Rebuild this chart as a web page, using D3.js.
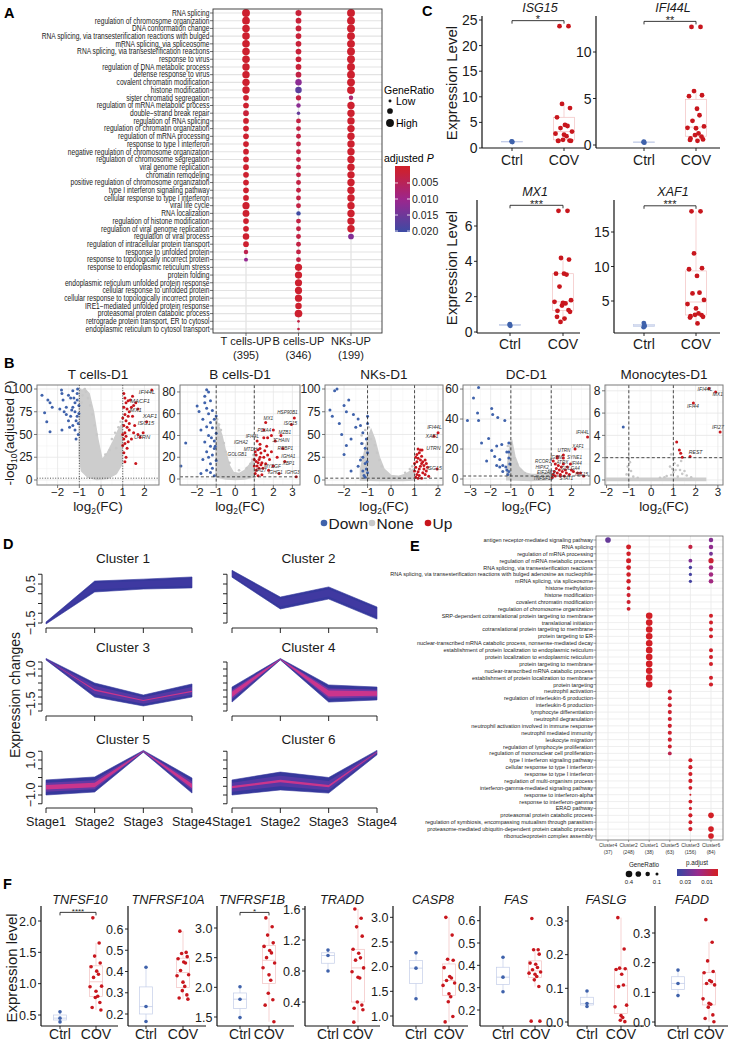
<!DOCTYPE html>
<html><head><meta charset="utf-8">
<script src="https://cdn.jsdelivr.net/npm/d3@7"></script>
<style>body{margin:0;background:#fff}svg{display:block;font-family:'Liberation Sans',Arial,Helvetica,sans-serif}</style>
</head><body><svg id="fig" width="731" height="1041"></svg>
<script>
// ===================== DATA =====================
// Panel A
const aTerms = ["RNA splicing","regulation of chromosome organization","DNA conformation change","RNA splicing, via transesterification reactions with bulged","mRNA splicing, via spliceosome","RNA splicing, via transesterification reactions","response to virus","regulation of DNA metabolic process","defense response to virus","covalent chromatin modification","histone modification","sister chromatid segregation","regulation of mRNA metabolic process","double\u2212strand break repair","regulation of RNA splicing","regulation of chromatin organization","regulation of mRNA processing","response to type I interferon","negative regulation of chromosome organization","regulation of chromosome segregation","viral genome replication","chromatin remodeling","positive regulation of chromosome organization","type I interferon signaling pathway","cellular response to type I interferon","viral life cycle","RNA localization","regulation of histone modification","regulation of viral genome replication","regulation of viral process","regulation of intracellular protein transport","response to unfolded protein","response to topologically incorrect protein","response to endoplasmic reticulum stress","protein folding","endoplasmic reticulum unfolded protein response","cellular response to unfolded protein","cellular response to topologically incorrect protein","IRE1\u2212mediated unfolded protein response","proteasomal protein catabolic process","retrograde protein transport, ER to cytosol","endoplasmic reticulum to cytosol transport"];
const aGroups = ["T cells-UP","B cells-UP","NKs-UP"];
const aGroupN = ["(395)","(346)","(199)"];
const aRatioT = [.095,.092,.09,.09,.09,.09,.09,.088,.088,.088,.088,.065,.065,.065,.065,.065,.065,.065,.065,.065,.065,.065,.065,.065,.065,.085,.08,.065,.065,.075,.065,.05,.045,null,null,null,null,null,null,null,null,null];
const aPadjT  = [.001,.001,.001,.001,.001,.001,.001,.001,.001,.001,.001,.001,.001,.002,.001,.001,.001,.001,.001,.001,.001,.001,.001,.001,.001,.001,.001,.001,.001,.001,.001,.004,.011,null,null,null,null,null,null,null,null,null];
const aRatioB = [.07,.065,.065,.065,.065,.065,.065,.065,.065,.075,.075,.06,.05,.04,.055,.055,.055,.055,.055,.055,.055,.055,.055,.055,.055,.055,.05,.055,.055,.055,.055,.055,.055,.085,.085,.085,.085,.085,.075,.092,.033,.033];
const aPadjB  = [.002,.002,.002,.002,.002,.002,.002,.002,.003,.012,.017,.003,.012,.016,.003,.003,.003,.003,.003,.003,.003,.003,.003,.003,.003,.003,.020,.003,.003,.003,.003,.003,.003,.001,.001,.001,.001,.001,.001,.001,.003,.003];
const aRatioNK= [.095,.095,.095,.095,.095,.095,.095,.095,.095,.095,.095,.05,.088,.088,.088,.088,.088,.088,.088,.088,.088,.088,.088,.088,.088,.088,.088,.088,.088,.065,null,null,null,null,null,null,null,null,null,null,null,null];
const aPadjNK = [.001,.001,.001,.001,.001,.001,.001,.001,.001,.001,.001,.007,.001,.001,.001,.001,.001,.001,.001,.001,.001,.001,.001,.001,.001,.001,.001,.001,.001,.013,null,null,null,null,null,null,null,null,null,null,null,null];
const aPadjTicks = [0.005,0.010,0.015,0.020];

// Panel B (volcano) [log2FC, -log10 adj P]
const fcThresh = [-1, 1];
const pThresh = 2;
const tBlue = [[-2.72,93],[-2.35,85],[-2.6,74],[-2.5,64],[-2.35,53],[-2.45,88],[-2.25,80],[-1.82,99],[-1.8,95],[-1.75,88],[-1.7,75],[-1.8,55],[-1.6,72],[-1.5,93],[-1.4,90],[-1.5,65],[-1.4,70],[-1.3,98],[-1.3,80],[-1.3,60],[-1.2,85],[-1.2,75],[-1.2,55],[-1.1,95],[-1.1,88],[-1.1,70],[-1.05,62],[-1.05,50],[-1.15,65],[-1.25,90],[-1.35,77],[-1.6,80],[-1.9,78],[-1.45,58],[-1.02,82],[-1.02,73],[-1.15,45],[-1.08,100]];
const tRed = [[1.05,95],[1.1,90],[1.15,85],[1.05,80],[1.2,78],[1.1,72],[1.25,70],[1.0,68],[1.15,65],[1.05,60],[1.2,58],[1.3,55],[1.1,52],[1.0,50],[1.15,48],[1.05,45],[1.25,42],[1.1,40],[1.0,38],[1.2,35],[1.05,30],[1.15,25],[1.3,62],[1.35,88],[1.4,80],[1.5,82],[1.45,92],[1.6,85],[1.3,75],[1.45,70],[1.55,60],[1.7,50],[1.4,45],[1.1,20],[1.6,18],[2.34,99],[1.25,87],[1.7,78],[2.1,64],[1.94,52],[1.5,52],[1.8,47]];
const tGray = [[-0.95,99],[-0.85,93],[-0.7,97],[-0.6,90],[-0.9,85],[-0.5,82],[-0.4,72],[-0.3,60],[-0.98,70],[0.5,45],[0.65,52],[0.8,58],[0.9,64],[0.95,48],[0.7,35],[0.4,33],[0.2,28],[-0.2,50],[0.92,30],[-0.75,100]];
const tGrayPoly = [[-1.0,97],[-0.75,100],[-0.55,95],[-0.35,75],[-0.15,45],[0.05,22],[0.3,30],[0.55,42],[0.8,55],[0.98,62],[0.98,18],[0.7,7],[0.3,1.5],[-0.2,0.5],[-0.6,3],[-0.9,10],[-1.0,25]];
const tLabels = [["IFI44L",2.12,94],["MACF1",1.8,85],["MX1",1.6,75],["XAF1",2.25,68],["ISG15",2.07,60],["UTRN",1.89,45]];

const bBlue = [[-1.5,82],[-1.4,80],[-1.6,76],[-1.3,72],[-2.0,67],[-1.5,65],[-1.2,63],[-1.4,60],[-1.0,58],[-1.1,55],[-1.7,55],[-1.3,52],[-1.5,48],[-1.2,47],[-1.8,45],[-1.0,42],[-1.4,40],[-2.6,33],[-1.1,35],[-1.6,34],[-1.3,30],[-1.1,28],[-1.5,25],[-1.2,22],[-1.4,20],[-1.7,18],[-1.0,17],[-1.3,14],[-2.85,12],[-1.2,10],[-1.5,8],[-1.8,5],[-1.1,3],[-1.3,6],[-1.9,62],[-1.6,70],[-1.25,38],[-1.05,30]];
const bRed = [[1.05,5],[1.1,8],[1.15,12],[1.2,15],[1.25,18],[1.3,20],[1.1,22],[1.05,25],[1.2,27],[1.35,24],[1.4,15],[1.45,10],[1.5,20],[1.55,26],[1.6,14],[1.65,30],[1.7,22],[1.3,32],[1.15,35],[1.8,18],[1.9,25],[2.0,12],[1.75,8],[1.4,4],[1.2,3],[1.0,12],[1.0,18],[2.2,20],[2.5,28],[1.5,38],[1.9,40],[1.5,45],[2.1,35],[3.1,56],[2.95,50],[1.6,52],[2.4,40],[2.0,45],[2.6,16],[3.2,2],[2.3,5],[1.7,38],[1.3,28],[1.1,16],[1.25,10],[1.35,13]];
const bGray = [[-0.95,55],[-0.85,50],[-0.75,45],[-0.9,38],[-0.6,33],[-0.5,25],[-0.97,30],[0.9,18],[0.8,14],[0.6,10],[0.95,22],[-0.3,15],[0.2,8],[0.97,8]];
const bGrayPoly = [[-1.0,55],[-0.9,50],[-0.7,40],[-0.5,25],[-0.3,12],[-0.1,6],[0.2,5],[0.5,8],[0.8,14],[1.0,20],[1.0,2],[0.5,0],[0,-0.5],[-0.5,0],[-1.0,2]];
const bLabels = [["HSP90B1",2.74,60],["MX1",1.74,54.5],["ISG15",2.9,50],["MZB1",2.6,41.5],["PDIA4",1.53,43.5],["IFI44L",0.9,38],["JCHAIN",2.4,34],["IGHA2",0.3,32],["RRBP1",2.63,26.5],["MTDH",0.8,25.5],["GOLGB1",0.1,21],["IGHA1",2.79,19],["XBP1",2.8,13],["MYDGF",1.95,10.5],["IFI27",1.35,6.5],["IGHG1",2.1,4.5],["IGHG3",3.0,4.5]];

const nBlue = [[-2.6,77],[-2.4,98],[-2.3,100],[-2.5,70],[-2.2,62],[-2.0,82],[-1.9,75],[-2.1,50],[-1.8,88],[-1.7,45],[-1.6,72],[-1.5,58],[-1.4,67],[-1.3,60],[-1.2,52],[-1.0,62],[-1.1,35],[-1.2,25],[-1.0,30],[-1.1,18],[-1.3,22],[-1.05,12],[-1.0,8],[-1.15,5],[-1.4,15],[-1.7,10],[-1.9,38],[-2.0,28],[-1.25,40],[-1.05,45],[-1.0,70],[-1.02,20],[-1.1,3],[-1.2,10]];
const nRed = [[1.05,3],[1.1,6],[1.15,9],[1.2,12],[1.25,15],[1.3,18],[1.1,20],[1.05,14],[1.2,5],[1.35,8],[1.4,12],[1.45,6],[1.5,10],[1.15,24],[1.25,22],[1.35,20],[1.05,25],[1.1,28],[1.2,30],[1.3,26],[1.4,16],[1.55,14],[1.6,4],[1.0,10],[1.0,18],[1.15,2],[1.3,2],[1.45,22],[1.5,18],[1.25,33],[1.15,34],[1.32,33],[1.83,48],[2.0,52],[1.96,12]];
const nGray = [[-1.25,49],[-1.2,40],[-1.1,55],[-0.95,58],[-0.85,45],[-0.7,38],[-0.6,30],[-0.5,22],[-1.0,30],[-0.4,15],[0.6,8],[0.8,12],[0.9,15],[0.95,10],[-1.28,25]];
const nGrayPoly = [[-1.3,12],[-1.0,45],[-0.85,55],[-0.7,45],[-0.5,25],[-0.3,12],[0,5],[0.3,4],[0.6,6],[0.95,12],[0.95,0],[0.5,-0.5],[0,-0.5],[-0.6,-0.5],[-1.3,0]];
const nLabels = [["IFI44L",1.85,56],["XAF1",1.74,46],["UTRN",1.8,33],["ISG15",1.85,11]];

const dBlue = [[-2.6,61],[-2.85,54],[-3.15,39],[-2.65,44],[-2.6,39],[-1.95,47],[-1.9,43],[-1.65,41],[-1.3,39],[-2.45,24],[-2.1,27],[-1.95,19],[-1.7,22],[-1.45,23],[-1.2,18],[-1.1,24],[-1.8,15],[-1.55,13],[-1.4,9],[-1.25,8],[-1.2,6],[-1.1,5],[-1.15,3],[-1.55,8],[-1.4,5],[-2.2,12],[-1.7,9],[-1.1,18],[-1.1,14],[-1.05,10]];
const dRed = [[1.05,1],[1.1,3],[1.15,5],[1.2,2],[1.25,7],[1.3,4],[1.35,9],[1.4,6],[1.45,3],[1.5,8],[1.55,5],[1.6,10],[1.65,2],[1.7,6],[1.75,4],[1.8,8],[1.9,3],[2.0,6],[1.2,10],[1.1,12],[1.3,14],[1.6,16],[2.18,20],[2.8,28],[1.95,10],[2.1,5],[1.45,2],[1.3,15],[1.6,14],[2.3,4],[2.6,2],[2.45,4]];
const dGray = [[-1.15,22],[-1.0,25],[-0.95,18],[-0.85,14],[-0.7,10],[-1.1,10],[-0.5,6],[0.6,4],[0.9,6],[0.95,3],[-0.3,4]];
const dGrayPoly = [[-1.2,5],[-1.05,22],[-0.95,25],[-0.8,15],[-0.6,8],[-0.3,4],[0,3],[0.4,3],[0.8,4],[1.0,5],[1.0,-0.5],[0,-1],[-1.2,-0.5]];
const dLabels = [["IFI44L",2.55,30],["XAF1",2.33,21],["UTRN",1.63,18.3],["IGHM",1.25,13.6],["SYNE1",2.15,13.6],["ATRX",1.55,10],["IFI44",2.25,9.4],["RCOR1",0.6,10.6],["HIPK2",0.55,7],["EIF2AK2",0.75,3.6],["GOLGA4",1.95,6.3],["ISG15",2.5,2.3],["STAT1",1.75,-0.6],["TNFSF10",0.6,-0.4]];

const mBlue = [[-1.25,4.75]];
const mRed = [[2.6,8.2],[2.9,7.9],[1.9,6.9],[3.1,4.3],[1.15,3.4],[1.27,2.7],[1.33,2.4],[1.4,2.05],[1.75,2.1]];
const mGray = [[-1.0,2.0],[-0.95,1.6],[-1.05,1.2],[-0.9,0.8],[-1.1,0.5],[-0.8,0.3],[0.9,2.3],[1.0,1.9],[1.05,1.5],[0.85,1.2],[1.2,1.3],[1.3,0.9],[1.0,0.7],[0.9,0.45],[1.4,0.55],[0.7,0.35],[1.5,0.8],[1.35,1.7],[0.95,1.0],[1.1,0.9],[1.6,0.4],[0.6,0.25],[1.2,0.3],[-0.6,0.2],[0.4,0.2],[1.8,0.25]];
const mGrayPoly = [[-2.0,-0.05],[2.45,-0.05],[2.45,0.15],[-2.0,0.15]];
const mLabels = [["IFI44L",2.42,8.0],["MX1",3.0,7.55],["IFI44",1.88,6.5],["IFI27",3.0,4.6],["REST",2.0,2.35]];

// Panel C
const cCtrl = {ISG15:[1.25,1.15,1.3], IFI44L:[0.3,0.25,0.35], MX1:[0.4,0.35,0.45], XAF1:[1.2,1.5,1.8,1.35]};
const cCov = {
  ISG15:[23.8,23.8,8.6,7.8,6.0,4.5,4.3,3.9,3.2,2.8,2.6,2.3,1.6,1.45,1.4,1.4,1.4],
  IFI44L:[12.7,12.7,5.8,5.35,5.25,3.9,3.2,2.6,2.0,1.85,1.8,1.25,1.07,0.9,0.7,0.6,0.55,0.45],
  MX1:[6.86,6.86,4.19,4.1,3.3,3.3,3.25,2.57,1.8,1.71,1.65,1.62,1.5,1.24,1.2,1.14,0.86,0.76,0.57],
  XAF1:[18,18,11.9,9.76,9.6,8.64,6.2,6.1,5.15,4.56,3.93,3.2,3.0,2.96,2.8,2.7,2.6,1.75]};
const cSig = {ISG15:"*", IFI44L:"**", MX1:"***", XAF1:"***"};
const cTicks = {ISG15:[0,5,10,15,20,25], IFI44L:[0,5,10], MX1:[0,2,4,6], XAF1:[5,10,15]};

// Panel D (Mfuzz clusters)
const dStages = ["Stage1","Stage2","Stage3","Stage4"];
const clHi  = {1:[-1.45,0.65,0.75,0.86], 2:[1.2,-0.17,0.35,-0.68], 3:[1.75,0.0,-0.86,-0.07], 4:[-0.29,1.75,-0.14,-0.29], 5:[-0.14,0.03,1.55,-0.03], 6:[-0.14,0.31,0.0,1.55]};
const clLo  = {1:[-1.55,0.09,0.24,0.3], 2:[0.85,-0.78,-0.27,-1.3], 3:[1.65,-1.0,-1.64,-1.0], 4:[-1.36,1.65,-1.36,-1.21], 5:[-1.0,-0.83,1.45,-0.89], 6:[-1.0,-0.71,-0.89,1.3]};
const clMid = {1:[-1.5,0.4,0.5,0.58], 2:[1.0,-0.45,0.05,-0.98], 3:[1.7,-0.5,-1.25,-0.6], 4:[-0.8,1.7,-0.75,-0.75], 5:[-0.55,-0.45,1.5,-0.5], 6:[-0.55,-0.2,-0.5,1.45]};
const clTickLabels = {1:[0.5,-1.5], 3:[1.0,-1.5], 5:[1.0,-1.0]};

// Panel E
const eTerms = ["antigen receptor-mediated signaling pathway","RNA splicing","regulation of mRNA processing","regulation of mRNA metabolic process","RNA splicing, via transesterification reactions","RNA splicing, via transesterification reactions with bulged adenosine as nucleophile","mRNA splicing, via spliceosome","histone methylation","histone modification","covalent chromatin modification","regulation of chromosome organization","SRP-dependent cotranslational protein targeting to membrane","translational initiation","cotranslational protein targeting to membrane","protein targeting to ER","nuclear-transcribed mRNA catabolic process, nonsense-mediated decay","establishment of protein localization to endoplasmic reticulum","protein localization to endoplasmic reticulum","protein targeting to membrane","nuclear-transcribed mRNA catabolic process","establishment of protein localization to membrane","protein targeting","neutrophil activation","regulation of interleukin-6 production","interleukin-6 production","lymphocyte differentiation","neutrophil degranulation","neutrophil activation involved in immune response","neutrophil mediated immunity","leukocyte migration","regulation of lymphocyte proliferation","regulation of mononuclear cell proliferation","type I interferon signaling pathway","cellular response to type I interferon","response to type I interferon","regulation of multi-organism process","interferon-gamma-mediated signaling pathway","response to interferon-alpha","response to interferon-gamma","ERAD pathway","proteasomal protein catabolic process","regulation of symbiosis, encompassing mutualism through parasitism","proteasome-mediated ubiquitin-dependent protein catabolic process","ribonucleoprotein complex assembly"];
const eClusters = ["Cluster4","Cluster2","Cluster1","Cluster5","Cluster3","Cluster6"];
const eCounts = ["(37)","(248)","(38)","(63)","(156)","(84)"];
// [row (1-based), cluster index, GeneRatio, p.adjust]
const eDots = [[1,0,.30,.028],[1,5,.2,.022],
 [2,1,.24,.002],[2,4,.18,.006],[2,5,.2,.02],
 [3,1,.2,.002],[3,5,.15,.025],
 [4,1,.24,.002],[4,4,.15,.022],[4,5,.26,.004],
 [5,1,.22,.002],[5,4,.12,.034],[5,5,.2,.016],
 [6,1,.2,.002],[6,4,.11,.034],[6,5,.2,.016],
 [7,1,.2,.002],[7,4,.11,.034],[7,5,.21,.016],
 [8,1,.14,.003],[9,1,.17,.003],[10,1,.17,.003],[11,1,.15,.003],
 [12,2,.4,.001],[13,2,.4,.001],[14,2,.4,.001],[15,2,.4,.001],[16,2,.4,.001],[17,2,.4,.001],[18,2,.4,.001],[19,2,.4,.001],[20,2,.4,.001],[21,2,.4,.001],[22,2,.4,.001],
 [12,5,.16,.002],[13,5,.16,.002],[14,5,.16,.002],[15,5,.16,.002],[17,5,.16,.002],[18,5,.16,.002],[19,5,.16,.002],[21,5,.16,.002],[22,5,.17,.002],
 [23,3,.17,.003],[24,3,.16,.003],[25,3,.16,.003],[26,3,.17,.003],[27,3,.17,.003],[28,3,.17,.003],[29,3,.17,.003],[30,3,.17,.003],[31,3,.16,.003],[32,3,.15,.008],
 [33,4,.17,.002],[34,4,.17,.002],[35,4,.17,.002],[36,4,.17,.002],[37,4,.15,.002],[38,4,.05,.002],[39,4,.15,.002],[40,4,.11,.002],[41,4,.17,.002],[42,4,.15,.002],[43,4,.17,.002],
 [41,5,.3,.001],[43,5,.3,.001],[44,5,.3,.001]];
const eRatioLegend = [0.4,0.3,0.2,0.1];
const ePadjTicks = [0.03,0.01];

// Panel F
const fGenes = ["TNFSF10","TNFRSF10A","TNFRSF1B","TRADD","CASP8","FAS","FASLG","FADD"];
const fCtrl = {TNFSF10:[0.55,0.45,0.39], TNFRSF10A:[0.42,0.235,0.165], TNFRSF1B:[2.01,1.8,1.49], TRADD:[1.07,1.0,0.8], CASP8:[2.28,1.97,1.35], FAS:[0.436,0.347,0.282], FASLG:[0.092,0.055,0.046], FADD:[0.175,0.13,0.089]};
const fCov = {
 TNFSF10:[2.05,1.65,1.44,1.33,1.27,1.2,1.15,1.1,0.96,0.95,0.88,0.8,0.78,0.7,0.62,0.58],
 TNFRSF10A:[0.59,0.49,0.485,0.47,0.46,0.445,0.44,0.405,0.385,0.38,0.35,0.33,0.31,0.29,0.275,0.27],
 TNFRSF1B:[3.17,3.02,2.88,2.75,2.69,2.62,2.58,2.5,2.41,2.33,2.21,2.12,1.9,1.79,1.7,1.42],
 TRADD:[1.6,1.48,1.37,1.25,1.08,1.03,0.97,0.94,0.84,0.79,0.72,0.71,0.4,0.36,0.32,0.3,0.14],
 CASP8:[3.0,2.64,2.15,2.13,1.98,1.8,1.77,1.72,1.67,1.62,1.45,1.39,1.29,0.99,0.88],
 FAS:[0.61,0.47,0.47,0.45,0.41,0.405,0.39,0.38,0.37,0.365,0.36,0.35,0.335,0.305,0.15,0.15],
 FASLG:[0.31,0.217,0.16,0.158,0.156,0.142,0.11,0.105,0.05,0.045,0.019,0.013,0.005,0.001],
 FADD:[0.345,0.269,0.206,0.17,0.166,0.14,0.136,0.13,0.125,0.078,0.063,0.06,0.05,0.024,0.012,0.001]};
const fSig = {TNFSF10:"****", TNFRSF1B:"*"};
const fTicks = {TNFSF10:[0.5,1.0,1.5,2.0], TNFRSF10A:[0.2,0.3,0.4,0.5,0.6], TNFRSF1B:[1.5,2.0,2.5,3.0], TRADD:[0.4,0.8,1.2,1.6], CASP8:[1.0,1.5,2.0,2.5,3.0], FAS:[0.2,0.3,0.4,0.5,0.6], FASLG:[0.0,0.1,0.2,0.3], FADD:[0.0,0.1,0.2,0.3]};

// ===================== DRAWING =====================
const svg = d3.select("#fig");
svg.append("rect").attr("width",731).attr("height",1041).attr("fill","#fff");
const defs = svg.append("defs");
const RED="#c8161d", BLUE="#3f62ab", GRAY="#c8c8c8";
const jitterPattern = [-0.45,0.45,-0.2,0.6,-0.7,0.1,0.35,-0.35,0.8,-0.85,0,0.25,-0.1,0.55,-0.55,0.7,-0.6,0.15,-0.25,0.4];

function T(p,x,y,s,o={}){
  const t=p.append("text").attr("x",x).attr("y",y).text(s).attr("font-size",o.size||10)
    .attr("text-anchor",o.anchor||"start").attr("fill",o.fill||"#000");
  if(o.weight) t.attr("font-weight",o.weight);
  if(o.style) t.attr("font-style",o.style);
  if(o.rotate!=null) t.attr("transform",`rotate(${o.rotate},${x},${y})`);
  return t;
}
function L(p,x1,y1,x2,y2,c,w,dash){const l=p.append("line").attr("x1",x1).attr("y1",y1).attr("x2",x2).attr("y2",y2).attr("stroke",c).attr("stroke-width",w);if(dash)l.attr("stroke-dasharray",dash);return l;}

// panel letters
[["A",4,18],["B",4,368],["C",422,16],["D",3,549],["E",410,551],["F",3,889]].forEach(([s,x,y])=>T(svg,x,y,s,{size:14.5,weight:"bold"}));

// ---------- Panel A ----------
(function(){
  const g=svg.append("g");
  const box={x0:213,x1:382,y0:9,y1:333};
  const yA=d3.scalePoint().domain(aTerms).range([13,329]);
  const xA=d3.scalePoint().domain(aGroups).range([246,351]);
  const rA=d3.scaleSqrt().domain([0.03,0.1]).range([1.2,4.1]);
  const colA=d3.scaleLinear().domain([0.0005,0.0105,0.0205]).range(["#d0202a","#9a2690","#3a4ca4"]).clamp(true);
  aTerms.forEach(t=>L(g,box.x0,yA(t),box.x1,yA(t),"#e3e3e3",1.1));
  aGroups.forEach(c=>L(g,xA(c),box.y0,xA(c),box.y1,"#e3e3e3",1.3));
  const rs=[aRatioT,aRatioB,aRatioNK], ps=[aPadjT,aPadjB,aPadjNK];
  aGroups.forEach((c,gi)=>aTerms.forEach((t,i)=>{const r=rs[gi][i]; if(r==null) return;
    g.append("circle").attr("cx",xA(c)).attr("cy",yA(t)).attr("r",rA(r)).attr("fill",colA(ps[gi][i]));}));
  g.append("rect").attr("x",box.x0).attr("y",box.y0).attr("width",box.x1-box.x0).attr("height",box.y1-box.y0).attr("fill","none").attr("stroke","#333").attr("stroke-width",0.9);
  aTerms.forEach(t=>{L(g,box.x0-3,yA(t),box.x0,yA(t),"#333",0.7);
    g.append("text").attr("transform",`translate(209.5,${yA(t)+2.8}) scale(0.81,1)`).attr("text-anchor","end").attr("font-size",8.2).attr("fill","#1a1a1a").text(t);});
  aGroups.forEach((c,i)=>{L(g,xA(c),box.y1,xA(c),box.y1+3,"#333",0.7);
    T(g,xA(c),345,c,{size:11.1,anchor:"middle",fill:"#1a1a1a"}); T(g,xA(c),359,aGroupN[i],{size:11.1,anchor:"middle",fill:"#1a1a1a"});});
  // legend
  T(g,384,94,"GeneRatio",{size:10.5});
  [[.035,101,"Low"],[.065,111,null],[.095,123,"High"]].forEach(([r,y,s])=>{g.append("circle").attr("cx",390).attr("cy",y).attr("r",rA(r)).attr("fill","#111"); if(s) T(g,396,y+4,s,{size:10.5});});
  const t=T(g,384,162,"adjusted ",{size:10.5}); t.append("tspan").attr("font-style","italic").text("P");
  const grad=defs.append("linearGradient").attr("id","gA").attr("x1",0).attr("x2",0).attr("y1",0).attr("y2",1);
  d3.range(0,11).forEach(k=>grad.append("stop").attr("offset",k/10).attr("stop-color",colA(-0.0003+k/10*0.0206)));
  const yC=d3.scaleLinear().domain([-0.0003,0.0203]).range([166,232]);
  g.append("rect").attr("x",395).attr("y",166).attr("width",15).attr("height",66).attr("fill","url(#gA)");
  aPadjTicks.forEach(v=>{L(g,395,yC(v),398,yC(v),"#fff",0.8);L(g,407,yC(v),410,yC(v),"#fff",0.8);T(g,412,yC(v)+3.5,v.toFixed(3),{size:10.5,fill:"#222"});});
})();

// ---------- Panel B ----------
function volcano(c){
  const g=svg.append("g");
  const xs=d3.scaleLinear().domain(c.xd).range([c.x0,c.x1]);
  const ys=d3.scaleLinear().domain(c.yd).range([c.y1,c.y0]);
  const minor=a=>{const m=[],st=a[1]-a[0];for(let i=0;i<a.length-1;i++)m.push((a[i]+a[i+1])/2);m.push(a[0]-st/2,a[a.length-1]+st/2);return m;};
  minor(c.xt).filter(v=>v>c.xd[0]&&v<c.xd[1]).forEach(v=>L(g,xs(v),c.y0,xs(v),c.y1,"#f3f3f3",0.5));
  minor(c.yt).filter(v=>v>c.yd[0]&&v<c.yd[1]).forEach(v=>L(g,c.x0,ys(v),c.x1,ys(v),"#f3f3f3",0.5));
  c.xt.filter(v=>v>=c.xd[0]&&v<=c.xd[1]).forEach(v=>L(g,xs(v),c.y0,xs(v),c.y1,"#e6e6e6",0.8));
  c.yt.forEach(v=>L(g,c.x0,ys(v),c.x1,ys(v),"#e6e6e6",0.8));
  const line=d3.line().x(d=>xs(d[0])).y(d=>ys(d[1])).curve(d3.curveLinearClosed);
  g.append("path").attr("d",line(c.poly)).attr("fill","#cdcdcd").attr("stroke","#cdcdcd").attr("stroke-width",1.5);
  const pts=(arr,col,r)=>arr.forEach(d=>g.append("circle").attr("cx",xs(d[0])).attr("cy",ys(d[1])).attr("r",r).attr("fill",col));
  pts(c.gray,GRAY,1.3); pts(c.blue,BLUE,1.5); pts(c.red,RED,1.5);
  const dash=c.dotted?"1,1.6":"3,2.2";
  fcThresh.forEach(v=>L(g,xs(v),c.y0,xs(v),c.y1,"#222",0.8,dash));
  L(g,c.x0,ys(pThresh),c.x1,ys(pThresh),"#222",0.8,dash);
  c.labels.forEach(d=>T(g,xs(d[1]),ys(d[2]),d[0],{size:c.lsize||5.2,anchor:"middle",style:"italic",fill:"#333"}));
  g.append("rect").attr("x",c.x0).attr("y",c.y0).attr("width",c.x1-c.x0).attr("height",c.y1-c.y0).attr("fill","none").attr("stroke","#7b7b7b").attr("stroke-width",1);
  c.xt.filter(v=>v>=c.xd[0]&&v<=c.xd[1]).forEach(v=>{L(g,xs(v),c.y1,xs(v),c.y1+3,"#555",0.8);T(g,xs(v),c.y1+11,String(v).replace("-","\u2212"),{size:11.5,anchor:"middle",fill:"#222"});});
  c.yt.forEach(v=>{L(g,c.x0-3,ys(v),c.x0,ys(v),"#555",0.8);T(g,c.x0-4.5,ys(v)+4.2,String(v),{size:12,anchor:"end",fill:"#222"});});
  T(g,(c.x0+c.x1)/2,379,c.title,{size:13.5,anchor:"middle",fill:"#1a1a1a"});
  const xl=T(g,(c.x0+c.x1)/2,511,"log",{size:13.5,anchor:"middle",fill:"#1a1a1a"});
  xl.append("tspan").attr("font-size",8.5).attr("dy",2.5).text("2"); xl.append("tspan").attr("dy",-2.5).text("(FC)");
}
volcano({title:"T cells-D1",x0:37,x1:159,y0:385,y1:485,xd:[-2.95,2.67],yd:[-5.5,104.4],xt:[-2,-1,0,1,2],yt:[0,25,50,75,100],dotted:true,blue:tBlue,red:tRed,gray:tGray,poly:tGrayPoly,labels:tLabels,lsize:5.8});
volcano({title:"B cells-D1",x0:180,x1:300,y0:385,y1:485,xd:[-2.9,3.4],yd:[-5.5,86.4],xt:[-3,-2,-1,0,1,2,3],yt:[0,20,40,60,80],blue:bBlue,red:bRed,gray:bGray,poly:bGrayPoly,labels:bLabels,lsize:4.7});
volcano({title:"NKs-D1",x0:325,x1:443,y0:385,y1:485,xd:[-2.81,2.21],yd:[-5.5,104.4],xt:[-2,-1,0,1,2],yt:[0,25,50,75,100],blue:nBlue,red:nRed,gray:nGray,poly:nGrayPoly,labels:nLabels,lsize:5.2});
volcano({title:"DC-D1",x0:463,x1:590,y0:385,y1:485,xd:[-3.37,2.92],yd:[-4,62.7],xt:[-3,-2,-1,0,1,2],yt:[0,20,40,60],blue:dBlue,red:dRed,gray:dGray,poly:dGrayPoly,labels:dLabels,lsize:4.6});
volcano({title:"Monocytes-D1",x0:605,x1:723,y0:385,y1:485,xd:[-2.07,3.23],yd:[-0.45,8.52],xt:[-2,-1,0,1,2,3],yt:[0,2,4,6,8],blue:mBlue,red:mRed,gray:mGray,poly:mGrayPoly,labels:mLabels,lsize:5.2});
(function(){const g=svg.append("g");const yl=T(g,14,433,"-log",{size:13.5,anchor:"middle",rotate:-90,fill:"#1a1a1a"});
  yl.append("tspan").attr("font-size",8.5).attr("dy",3).text("10"); yl.append("tspan").attr("dy",-3).text("(adjusted ");
  yl.append("tspan").attr("font-style","italic").text("P"); yl.append("tspan").text(")");
  [["Down",BLUE,324],["None",GRAY,372],["Up",RED,428]].forEach(([s,col,x])=>{g.append("circle").attr("cx",x).attr("cy",523).attr("r",3.3).attr("fill",col);T(g,x+4.5,529,s,{size:15.5,fill:"#1a1a1a"});});
})();

// ---------- strip plots (C and F) ----------
function strip(c){
  const g=svg.append("g");
  const ys=d3.scaleLinear().domain([c.ref[0][0],c.ref[1][0]]).range([c.ref[0][1],c.ref[1][1]]);
  const xs=d3.scalePoint().domain(["Ctrl","COV"]).range([c.ctrlX,c.covX]);
  [["Ctrl",c.ctrl,"#c3cde8"],["COV",c.cov,"#f2c0c0"]].forEach(([k,vals,col])=>{
    const s=vals.slice().sort(d3.ascending);
    const q1=d3.quantile(s,.25),md=d3.quantile(s,.5),q3=d3.quantile(s,.75),iqr=q3-q1;
    const lo=d3.min(s.filter(v=>v>=q1-1.5*iqr)),hi=d3.max(s.filter(v=>v<=q3+1.5*iqr));
    const cx=xs(k),w=c.bw;
    L(g,cx,ys(hi),cx,ys(q3),col,0.7);L(g,cx,ys(lo),cx,ys(q1),col,0.7);
    g.append("rect").attr("x",cx-w/2).attr("y",ys(q3)).attr("width",w).attr("height",Math.max(0.5,ys(q1)-ys(q3))).attr("fill","none").attr("stroke",col).attr("stroke-width",0.7);
    L(g,cx-w/2,ys(md),cx+w/2,ys(md),col,0.8);
  });
  c.ctrl.forEach((v,i)=>g.append("circle").attr("cx",xs("Ctrl")+jitterPattern[i]*c.cj).attr("cy",ys(v)).attr("r",c.r).attr("fill",BLUE));
  c.cov.forEach((v,i)=>g.append("circle").attr("cx",xs("COV")+jitterPattern[i%jitterPattern.length]*c.jw).attr("cy",ys(v)).attr("r",c.r).attr("fill",RED));
  L(g,c.ax,c.top,c.ax,c.bottom,"#111",1.2); L(g,c.ax,c.bottom,c.xEnd,c.bottom,"#111",1.2);
  c.ticks.forEach(v=>{L(g,c.ax-3,ys(v),c.ax,ys(v),"#111",0.9);T(g,c.ax-4.5,ys(v)+c.fs*0.36,c.fmt(v),{size:c.fs,anchor:"end",fill:"#1a1a1a"});});
  ["Ctrl","COV"].forEach(k=>{L(g,xs(k),c.bottom,xs(k),c.bottom+3,"#111",0.9);T(g,xs(k),c.labY,k,{size:c.xfs,anchor:"middle",fill:"#1a1a1a"});});
  T(g,c.titleX,c.titleY,c.title,{size:c.tfs,anchor:"middle",style:"italic",fill:"#1a1a1a"});
  if(c.sig){const top=ys(d3.max(c.cov))-5.5;
    L(g,xs("Ctrl"),top,xs("COV"),top,"#222",0.9);L(g,xs("Ctrl"),top,xs("Ctrl"),top+3,"#222",0.9);L(g,xs("COV"),top,xs("COV"),top+3,"#222",0.9);
    T(g,(xs("Ctrl")+xs("COV"))/2,top+(c.sfs>9?2.5:1.5),c.sig,{size:c.sfs,anchor:"middle",fill:"#222"});}
}
// Panel C
const fmtC=v=>String(v);
const cCommon={r:2.4,bw:21,jw:10,cj:0.8,fs:14,xfs:14,tfs:12.5,fmt:fmtC,sfs:11};
strip({...cCommon,title:"ISG15",titleX:540,titleY:12,ax:482,xEnd:585,top:16,bottom:148,ctrlX:512,covX:564,ref:[[0,148],[25,20]],ticks:cTicks.ISG15,ctrl:cCtrl.ISG15,cov:cCov.ISG15,sig:cSig.ISG15,labY:165});
strip({...cCommon,title:"IFI44L",titleX:673,titleY:12,ax:596,xEnd:720,top:16,bottom:148,ctrlX:644,covX:696,ref:[[0,145],[10,52]],ticks:cTicks.IFI44L,ctrl:cCtrl.IFI44L,cov:cCov.IFI44L,sig:cSig.IFI44L,labY:165});
strip({...cCommon,title:"MX1",titleX:535,titleY:196,ax:477,xEnd:580,top:200,bottom:333,ctrlX:510,covX:563,ref:[[0,332],[6,226]],ticks:cTicks.MX1,ctrl:cCtrl.MX1,cov:cCov.MX1,sig:cSig.MX1,labY:349});
strip({...cCommon,title:"XAF1",titleX:673,titleY:196,ax:614,xEnd:720,top:200,bottom:333,ctrlX:644,covX:696,ref:[[5,301],[15,232]],ticks:cTicks.XAF1,ctrl:cCtrl.XAF1,cov:cCov.XAF1,sig:cSig.XAF1,labY:349});
T(svg,457,83,"Expression Level",{size:15,anchor:"middle",rotate:-90,fill:"#1a1a1a"});
T(svg,457,268,"Expression Level",{size:15,anchor:"middle",rotate:-90,fill:"#1a1a1a"});

// ---------- Panel D ----------
function clusterPlot(k,c){
  const g=svg.append("g");
  const ys=d3.scaleLinear().domain([c.ref[0][0],c.ref[1][0]]).range([c.ref[0][1],c.ref[1][1]]);
  const xs=d3.scalePoint().domain(dStages).range([c.sx0,c.sx1]);
  const hi=clHi[k],lo=clLo[k],md=clMid[k];
  const area=(f)=>d3.area().x((d,i)=>xs(dStages[i])).y0((d,i)=>ys(md[i]-(md[i]-lo[i])*f)).y1((d,i)=>ys(md[i]+(hi[i]-md[i])*f))(dStages);
  g.append("path").attr("d",area(1)).attr("fill","#36389c").attr("stroke","#36389c").attr("stroke-width",0.6);
  g.append("path").attr("d",area(0.6)).attr("fill",c.midCol).attr("opacity",0.85);
  if(c.core>0) g.append("path").attr("d",area(c.core)).attr("fill","#d6358a").attr("opacity",0.9);
  const tks=c.ticks;
  L(g,c.ax,ys(d3.max(tks)),c.ax,ys(d3.min(tks)),"#111",0.9);
  tks.forEach(v=>L(g,c.ax-4,ys(v),c.ax,ys(v),"#111",0.9));
  (clTickLabels[k]||[]).forEach(v=>T(g,35,ys(v),v.toFixed(1).replace("-","\u2212"),{size:12.5,anchor:"middle",rotate:-90,fill:"#1a1a1a"}));
  L(g,c.sx0,c.xy,c.sx1,c.xy,"#111",0.9);
  dStages.forEach(s=>L(g,xs(s),c.xy,xs(s),c.xy+5,"#111",0.9));
  if(c.stageLabels) dStages.forEach(s=>T(g,xs(s),826,s,{size:12.6,anchor:"middle",fill:"#1a1a1a"}));
  T(g,(c.sx0+c.sx1)/2+4,c.ty,"Cluster "+k,{size:13.5,anchor:"middle",fill:"#1a1a1a"});
}
const r1={ref:[[0.5,584],[-1.5,623]],ticks:[-1.5,-1,-0.5,0,0.5,1],xy:628,ty:563};
const r2={ref:[[1.0,669],[-1.5,704]],ticks:[-2,-1.5,-1,-0.5,0,0.5,1,1.5],xy:716,ty:652};
const r3={ref:[[1.0,760],[-1.0,795]],ticks:[-1.5,-1,-0.5,0,0.5,1,1.5],xy:808,ty:744};
const colL={ax:42,sx0:46,sx1:192}, colR={ax:227,sx0:232,sx1:377};
clusterPlot(1,{...r1,...colL,midCol:"#3f3aa2",core:0});
clusterPlot(2,{...r1,...colR,midCol:"#423aa2",core:0});
clusterPlot(3,{...r2,...colL,midCol:"#5a3aa6",core:0.1});
clusterPlot(4,{...r2,...colR,midCol:"#7a3aa6",core:0.35});
clusterPlot(5,{...r3,...colL,midCol:"#6a3aa6",core:0.3,stageLabels:true});
clusterPlot(6,{...r3,...colR,midCol:"#5a3aa6",core:0.15,stageLabels:true});
T(svg,20,695,"Expression changes",{size:14,anchor:"middle",rotate:-90,fill:"#1a1a1a"});

// ---------- Panel E ----------
(function(){
  const g=svg.append("g");
  const box={x0:596,x1:723,y0:536,y1:840};
  const yE=d3.scalePoint().domain(eTerms).range([540,836]);
  const xE=d3.scalePoint().domain(eClusters).range([608,711]);
  const rE=d3.scaleSqrt().domain([0.05,0.4]).range([1.0,3.3]);
  const colE=d3.scaleLinear().domain([0.0015,0.018,0.036]).range(["#d21f26","#9b2a8c","#3a45a2"]).clamp(true);
  eTerms.forEach(t=>L(g,box.x0,yE(t),box.x1,yE(t),"#ebebeb",0.8));
  eClusters.forEach(c=>L(g,xE(c),box.y0,xE(c),box.y1,"#ebebeb",0.9));
  eDots.forEach(d=>g.append("circle").attr("cx",xE(eClusters[d[1]])).attr("cy",yE(eTerms[d[0]-1])).attr("r",rE(d[2])).attr("fill",colE(d[3])));
  g.append("rect").attr("x",box.x0).attr("y",box.y0).attr("width",box.x1-box.x0).attr("height",box.y1-box.y0).attr("fill","none").attr("stroke","#555").attr("stroke-width",0.7);
  eTerms.forEach(t=>{L(g,box.x0-2.5,yE(t),box.x0,yE(t),"#444",0.5);T(g,593,yE(t)+2,t,{size:5.5,anchor:"end",fill:"#222"});});
  eClusters.forEach((c,i)=>{L(g,xE(c),box.y1,xE(c),box.y1+2,"#444",0.5);T(g,xE(c),846.5,c,{size:4.9,anchor:"middle",fill:"#333"});T(g,xE(c),854,eCounts[i],{size:4.9,anchor:"middle",fill:"#333"});});
  T(g,644,867,"GeneRatio",{size:6.3,anchor:"middle",fill:"#222"});
  const lx=d3.scalePoint().domain(eRatioLegend).range([629,657]);
  eRatioLegend.forEach(v=>g.append("circle").attr("cx",lx(v)).attr("cy",874).attr("r",rE(v)).attr("fill","#111"));
  T(g,629,883.5,"0.4",{size:6,anchor:"middle",fill:"#222"});T(g,657,883.5,"0.1",{size:6,anchor:"middle",fill:"#222"});
  T(g,697,864.5,"p.adjust",{size:6.3,anchor:"middle",fill:"#222"});
  const xC=d3.scaleLinear().domain([0.0376,0.0]).range([677,718]);
  const gr=defs.append("linearGradient").attr("id","gE");
  d3.range(0,11).forEach(k=>gr.append("stop").attr("offset",k/10).attr("stop-color",colE(0.0376*(1-k/10))));
  g.append("rect").attr("x",677).attr("y",869).attr("width",41).attr("height",7).attr("fill","url(#gE)");
  ePadjTicks.forEach(v=>T(g,xC(v),883.5,v.toFixed(2),{size:6,anchor:"middle",fill:"#222"}));
})();

// ---------- Panel F ----------
const fmt1=v=>v.toFixed(1);
const fLayout = {
 TNFSF10:{ax:41,xEnd:118,ctrlX:60,covX:96,ref:[[0.5,1015],[2.0,921]],titleX:80},
 TNFRSF10A:{ax:128,xEnd:206,ctrlX:146,covX:183,ref:[[0.2,1014],[0.6,929]],titleX:168},
 TNFRSF1B:{ax:217,xEnd:294,ctrlX:240,covX:269,ref:[[1.5,1017],[3.0,928]],titleX:252},
 TRADD:{ax:305,xEnd:380,ctrlX:328,covX:358,ref:[[0.4,1002],[1.2,940]],titleX:342},
 CASP8:{ax:393,xEnd:468,ctrlX:416,covX:449,ref:[[1.0,1016],[2.5,942]],titleX:433},
 FAS:{ax:480,xEnd:556,ctrlX:503,covX:535,ref:[[0.2,1010],[0.5,943]],titleX:516},
 FASLG:{ax:568,xEnd:644,ctrlX:587,covX:621,ref:[[0.0,1022],[0.3,921]],titleX:606},
 FADD:{ax:655,xEnd:728,ctrlX:678,covX:709,ref:[[0.0,1022],[0.3,933]],titleX:692}};
fGenes.forEach(gn=>{const l=fLayout[gn];
  strip({...l,title:gn,titleY:904,top:906,bottom:1026,ticks:fTicks[gn],ctrl:fCtrl[gn],cov:fCov[gn],sig:fSig[gn],r:1.8,bw:13,jw:7,cj:0,fs:12.5,xfs:14,tfs:12.8,labY:1039,fmt:fmt1,sfs:8});});
T(svg,17,968,"Expression level",{size:15,anchor:"middle",rotate:-90,fill:"#1a1a1a"});
</script></body></html>
